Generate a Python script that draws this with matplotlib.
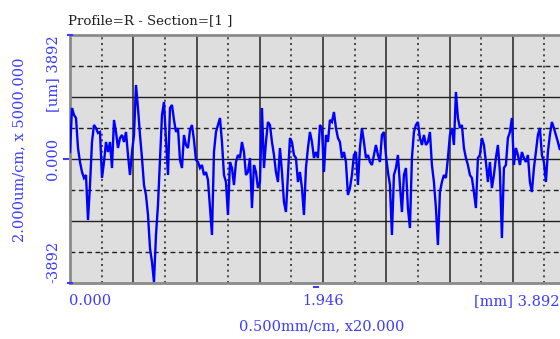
import numpy as np
import matplotlib
matplotlib.use("Agg")
import matplotlib.pyplot as plt

# ---- data (profile heights in um, sampled along the trace) ----
x_len_mm = 3.892
y_range_um = 3892
sample_step_mm = 0.01538

profile_um = [
    220, 1601, 1382, 1287, 345, -94, -408, -597, -502, -1915, -816, 534, 1068, 973, 816, 848,
    -597, -94, 534, 220, 534, -283, 1225, 848, 345, 659, 754, 534, 848, 126, -502, 220, 754, 2324,
    1601, 754, 31, -816, -1130, -1758, -2795, -3234, -3862, -2386, -1444, -31, 1382, 1790, 597,
    -502, 1601, 1696, 1225, 848, 973, -31, -283, 754, 440, 345, 911, 1068, 597, -31, -94, -283,
    -188, -502, -408,
    -659, -1539, -2386, 220, 848, 1068, 1287, 534, -502, -722, -1758, -94, -283, -816, -94, 126,
    31, 534, 220, -502, -408, 31, -1539, -188, -408, -911, -722, 1601, -283, 534, 1162, 1068, 534,
    126, -408, -722,
    345, -408, -1350, -1664, -502, 659, 534, 126, 31, -722, -408, -911, -1758, -283, 345, 848,
    534, 31, 220, 31, 1068, 973, -408, 754, 534, 1225, 1162, 1476, 973, 659, 534, 31, 220, -94,
    -1130,
    -911, -502, 126, 220, -816, 345, 973, 534, 31, 126, -94, -188, 126, 440, 126, -94, 754, 848,
    126, -408, -816, -2386, -502, -283, 126, -816, -1664, -502, -283, -1539, -2167, 31, 848,
    1068, 1162,
    659, 440, 754, 440, 534, 848, -188, -722, -1539, -2700, -1036, -722, -502, -597, 31, 754, 973,
    440, 2104, 1287, 973, 1068, 345, 31, -188, -502, -597, -1036, -1539, 31, 126, 659, 440, -94,
    -722,
    -94, -911, -502, 31, 440, -408, -2481, -283, -188, 659, 848, 1287, -188, 345, 126, -188, 220,
    31, -94, 126, -722, -1036, -283, 220, 754, 973, 126, -94, -722, 220, 754, 1162, 973, 754, 534,
    283, 597, 440, -31, 283,
]

x_tick_labels = ["0.000", "1.946", "[mm] 3.892"]
y_tick_labels = ["[um] 3892", "0.000", "-3892"]
title_text = "Profile=R - Section=[1 ]"
x_scale_text = "0.500mm/cm, x20.000"
y_scale_text = "2.000um/cm, x 5000.000"

# ---- figure ----
W, H = 560, 339
fig = plt.figure(figsize=(W / 100, H / 100), dpi=100)
fig.patch.set_facecolor("white")

L, R, T, B = 70, 576, 35, 283
ax = fig.add_axes([L / W, (H - B) / H, (R - L) / W, (B - T) / H])
ax.set_facecolor("#dedede")
ax.set_xlim(0, x_len_mm)
ax.set_ylim(-y_range_um, y_range_um)

# grid
major_x = x_len_mm / 8
for i in range(1, 8):
    ax.axvline(i * major_x, color="#404040", lw=1.3, zorder=1)
for i in range(8):
    ax.axvline((i + 0.5) * major_x, color="#303030", lw=1.2, ls=(0, (1.2, 2.2)), zorder=1)
major_y = y_range_um / 2
for v in (-major_y, 0, major_y):
    ax.axhline(v, color="#202020", lw=1.0, zorder=1)
for v in (-1.5 * major_y, -0.5 * major_y, 0.5 * major_y, 1.5 * major_y):
    ax.axhline(v, color="#202020", lw=1.0, ls=(0, (3.5, 2.5)), zorder=1)

x = np.arange(len(profile_um)) * sample_step_mm
ax.plot(x, profile_um, color="#0000ff", lw=1.7, zorder=3, solid_joinstyle="miter")

for s in ax.spines.values():
    s.set_color("#8a8a8a")
    s.set_linewidth(2.0)
ax.set_xticks([])
ax.set_yticks([])

blue = "#3c3cff"
serif = ["DejaVu Serif"]
fs = 10.5

def fx(px):
    return px / W

def fy(py):
    return (H - py) / H

fig.text(fx(68), fy(24), title_text, family=serif, fontsize=9.6, color="#202020",
         ha="left", va="baseline")

# x labels
fig.text(fx(69), fy(305), x_tick_labels[0], family=serif, fontsize=fs, color=blue,
         ha="left", va="baseline")
fig.text(fx(323), fy(305), x_tick_labels[1], family=serif, fontsize=fs, color=blue,
         ha="center", va="baseline")
fig.text(fx(560), fy(305), x_tick_labels[2], family=serif, fontsize=fs, color=blue,
         ha="right", va="baseline")
fig.text(fx(322), fy(330), x_scale_text, family=serif, fontsize=fs, color=blue,
         ha="center", va="baseline")

# y labels (rotated)
fig.text(fx(60), fy(35), y_tick_labels[0], family=serif, fontsize=fs, color=blue,
         ha="right", va="top", rotation=90)
fig.text(fx(60), fy(159), y_tick_labels[1], family=serif, fontsize=fs, color=blue,
         ha="right", va="center", rotation=90)
fig.text(fx(60), fy(283), y_tick_labels[2], family=serif, fontsize=fs, color=blue,
         ha="right", va="bottom", rotation=90)
fig.text(fx(26), fy(150), y_scale_text, family=serif, fontsize=fs, color=blue,
         ha="right", va="center", rotation=90)

# small blue corner markers
for (px, py) in [(70, 35), (70, 283), (66, 159), (316, 287)]:
    fig.add_artist(plt.Line2D([fx(px - 2), fx(px + 2)], [fy(py), fy(py)], color=blue, lw=1.5))

fig.savefig("out.png", dpi=100)
